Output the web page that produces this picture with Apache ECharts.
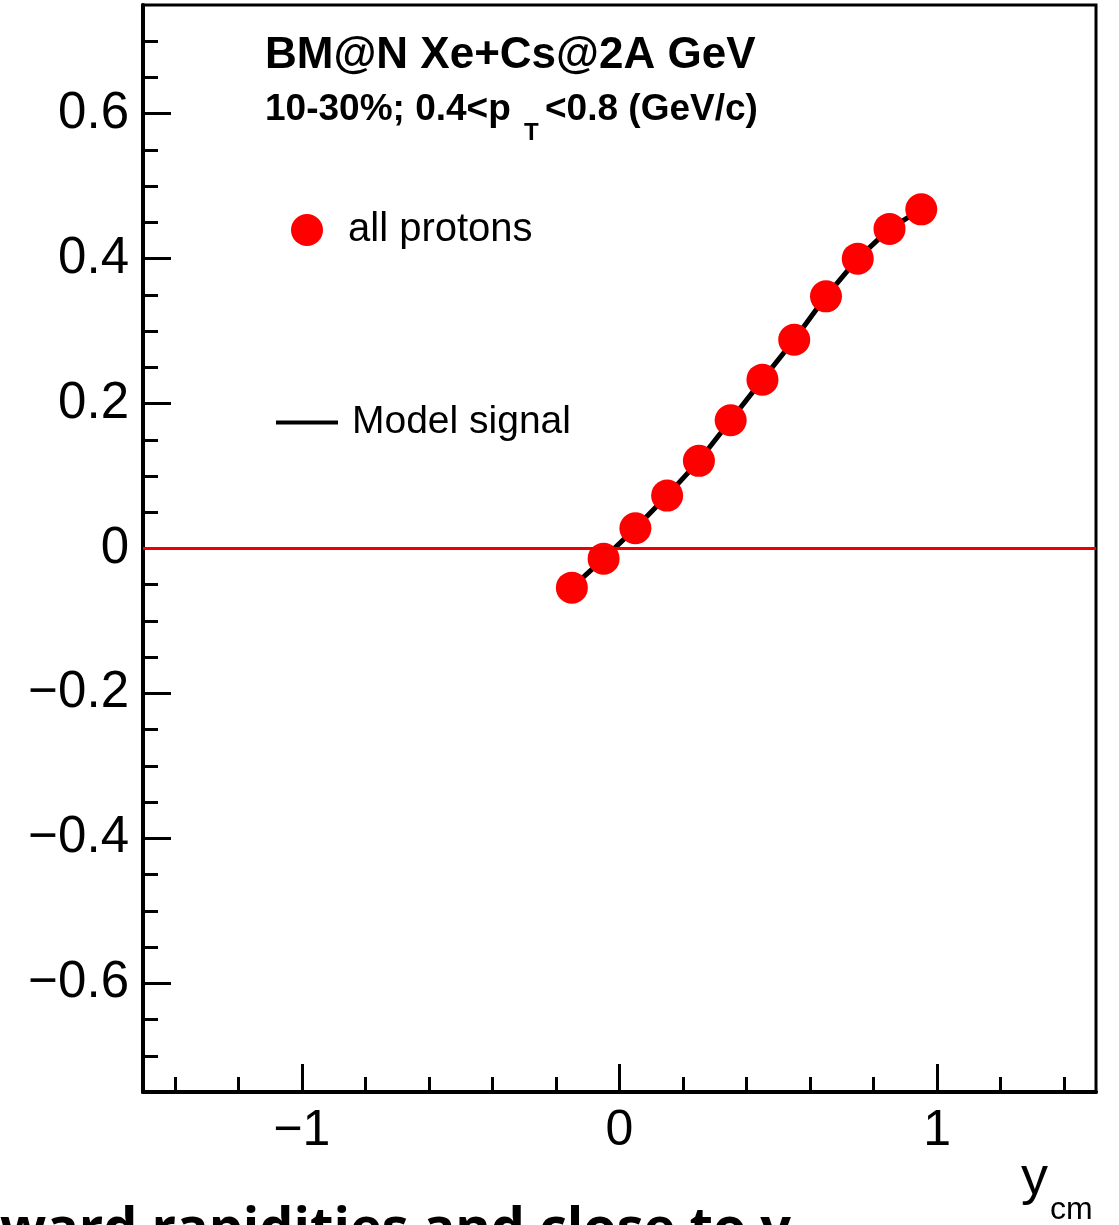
<!DOCTYPE html>
<html>
<head>
<meta charset="utf-8">
<script src="https://cdn.jsdelivr.net/npm/echarts@6/dist/echarts.min.js"></script>
<style>
  html, body { margin: 0; padding: 0; background: #fff; }
  #main { width: 1119px; height: 1225px; }
</style>
</head>
<body>
<div id="main"></div>
<script>
// data
var yCm = [-0.15, -0.05, 0.05, 0.15, 0.25, 0.35, 0.45, 0.55, 0.65, 0.75, 0.85, 0.95];
var protonV1 = [-0.054, -0.014, 0.028, 0.073, 0.121, 0.177, 0.233, 0.288, 0.348, 0.400, 0.441, 0.468];
var modelV1 = [-0.054, -0.014, 0.028, 0.073, 0.121, 0.177, 0.233, 0.288, 0.348, 0.400, 0.441, 0.468];

var xMajor = [-1, 0, 1];
var xMinor = [-1.4, -1.2, -0.8, -0.6, -0.4, -0.2, 0.2, 0.4, 0.6, 0.8, 1.2, 1.4];
var yMajor = [-0.6, -0.4, -0.2, 0, 0.2, 0.4, 0.6];
var yMinor = [-0.7, -0.65, -0.55, -0.5, -0.45, -0.35, -0.3, -0.25, -0.15, -0.1, -0.05,
              0.05, 0.1, 0.15, 0.25, 0.3, 0.35, 0.45, 0.5, 0.55, 0.65, 0.7];

var font = 'Liberation Sans';

function fmt(v) {
  if (v === 0) return '0';
  var s = String(Math.abs(Math.round(v * 10) / 10));
  return (v < 0 ? '\u2212' : '') + s;
}

var chart = echarts.init(document.getElementById('main'));

var pts = yCm.map(function (x, i) { return [x, protonV1[i]]; });
var model = yCm.map(function (x, i) { return [x, modelV1[i]]; });

chart.setOption({
  animation: false,
  backgroundColor: '#fff',
  grid: {
    left: 143, right: 23, top: 5, bottom: 133,
    show: true, borderColor: '#000', borderWidth: 3, containLabel: false
  },
  xAxis: [{
    type: 'value', min: -1.5, max: 1.5,
    splitLine: { show: false },
    axisLine: { show: true, onZero: false, lineStyle: { color: '#000', width: 4 } },
    axisTick: { show: true, inside: true, length: 28, customValues: xMajor, lineStyle: { color: '#000', width: 3 } },
    axisLabel: { customValues: xMajor, formatter: fmt, color: '#000', fontFamily: font, fontSize: 50, margin: 14 }
  }, {
    type: 'value', min: -1.5, max: 1.5, position: 'bottom',
    splitLine: { show: false },
    axisLine: { show: false, onZero: false },
    axisTick: { show: true, inside: true, length: 15, customValues: xMinor, lineStyle: { color: '#000', width: 3 } },
    axisLabel: { show: false }
  }],
  yAxis: [{
    type: 'value', min: -0.75, max: 0.75,
    splitLine: { show: false },
    axisLine: { show: true, onZero: false, lineStyle: { color: '#000', width: 4 } },
    axisTick: { show: true, inside: true, length: 28, customValues: yMajor, lineStyle: { color: '#000', width: 3 } },
    axisLabel: { customValues: yMajor, formatter: fmt, color: '#000', fontFamily: font, fontSize: 51, margin: 14 }
  }, {
    type: 'value', min: -0.75, max: 0.75, position: 'left',
    splitLine: { show: false },
    axisLine: { show: false, onZero: false },
    axisTick: { show: true, inside: true, length: 15, customValues: yMinor, lineStyle: { color: '#000', width: 3 } },
    axisLabel: { show: false }
  }],
  legend: [{
    data: ['all protons'],
    left: 286, top: 205,
    orient: 'vertical',
    itemWidth: 50, itemHeight: 32,
    icon: 'circle',
    textStyle: { color: '#000', fontFamily: font, fontSize: 40, padding: [0, 0, 0, 11] }
  }, {
    data: [{ name: 'Model signal', icon: 'rect' }],
    left: 271, top: 398,
    itemWidth: 62, itemHeight: 4,
    textStyle: { color: '#000', fontFamily: font, fontSize: 39, padding: [0, 0, 0, 9] }
  }],
  graphic: [{
    type: 'text', left: 265, top: 34,
    style: { text: 'BM@N Xe+Cs@2A GeV', fill: '#000', font: 'bold 44px "Liberation Sans"' }
  }, {
    type: 'text', left: 265, top: 91,
    style: { text: '10-30%; 0.4<p', fill: '#000', font: 'bold 37px "Liberation Sans"' }
  }, {
    type: 'text', left: 524, top: 121,
    style: { text: 'T', fill: '#000', font: 'bold 24px "Liberation Sans"' }
  }, {
    type: 'text', left: 545, top: 91,
    style: { text: '<0.8 (GeV/c)', fill: '#000', font: 'bold 37px "Liberation Sans"' }
  }, {
    type: 'text', left: 1021, top: 1152,
    style: { text: 'y', fill: '#000', font: '54px "Liberation Sans"' }
  }, {
    type: 'text', left: 1050, top: 1194,
    style: { text: 'cm', fill: '#000', font: '32px "Liberation Sans"' }
  }, {
    type: 'text', left: 0, top: 1204,
    style: { text: 'ward rapidities and close to y', fill: '#000', font: 'bold 54px "Open Sans"' }
  }],
  series: [{
    name: 'Model signal',
    type: 'line',
    data: model,
    showSymbol: false,
    symbol: 'none',
    color: '#000',
    lineStyle: { color: '#000', width: 5 },
    z: 3
  }, {
    name: 'all protons',
    type: 'scatter',
    data: pts,
    symbol: 'circle',
    symbolSize: 32,
    itemStyle: { color: '#f00', opacity: 1 },
    z: 4,
    markLine: {
      silent: true,
      symbol: 'none',
      label: { show: false },
      lineStyle: { color: '#e00', width: 3, type: 'solid' },
      data: [{ yAxis: 0 }]
    }
  }]
});
</script>
</body>
</html>
